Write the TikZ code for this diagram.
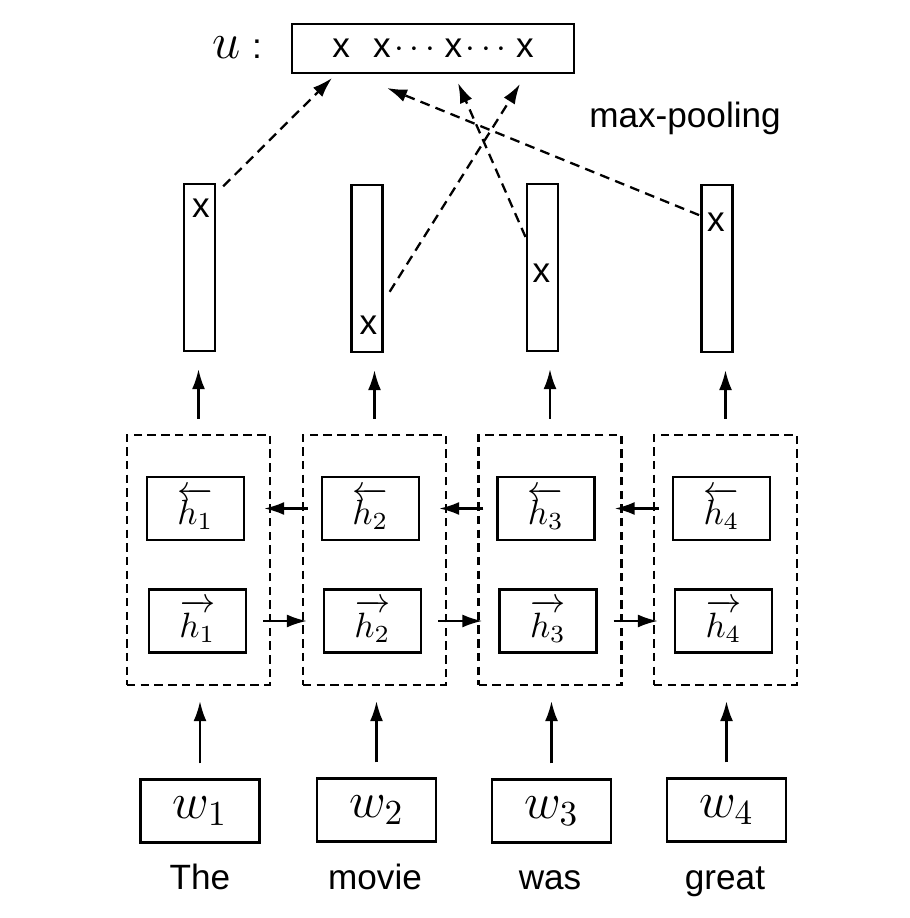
\documentclass[tikz,border=0pt]{standalone}
\usepackage{amsmath}
\usepackage{fontspec}
\setsansfont{Liberation Sans}
\usetikzlibrary{arrows.meta,positioning,calc}

\begin{document}
\begin{tikzpicture}[every node/.style={font=\sffamily},
    wbox/.style={draw, line width=0.65pt, minimum width=1.19cm, minimum height=0.63cm, inner sep=0pt, font=\Large},
    hbox/.style={draw, line width=0.65pt, minimum width=0.97cm, minimum height=0.63cm, inner sep=0pt, font=\normalsize},
    group/.style={draw, line width=0.65pt, dash pattern=on 2.4pt off 1.5pt, minimum width=1.43cm, minimum height=2.50cm},
    vec/.style={draw, line width=0.65pt, minimum width=0.31cm, minimum height=1.67cm, inner sep=0pt},
    maxel/.style={inner sep=0pt},
    tok/.style={inner sep=0pt, anchor=base},
    link/.style={line width=0.65pt, -{Latex[length=2mm, width=1.3mm]}},
    pool/.style={link, dash pattern=on 2.8pt off 1.8pt}]
    \useasboundingbox (0,0) rectangle (9.10,9.18);

    % input words
    \node[wbox] (w1) at (2.00,1.07) {$w_1$};
    \node[wbox] (w2) at (3.765,1.08) {$w_2$};
    \node[wbox] (w3) at (5.515,1.07) {$w_3$};
    \node[wbox] (w4) at (7.265,1.08) {$w_4$};
    \node[tok] (s1) at (2.00,0.29) {The};
    \node[tok] (s2) at (3.75,0.29) {movie};
    \node[tok] (s3) at (5.50,0.29) {was};
    \node[tok] (s4) at (7.25,0.29) {great};

    % BiLSTM steps
    \node[group] (d1) at (1.985,3.58) {};
    \node[group] (d2) at (3.745,3.58) {};
    \node[group] (d3) at (5.50,3.58) {};
    \node[group] (d4) at (7.255,3.58) {};
    \node[hbox] (b1) at (1.955,4.095) {$\overleftarrow{h_1}$};
    \node[hbox] (b2) at (3.705,4.095) {$\overleftarrow{h_2}$};
    \node[hbox] (b3) at (5.46,4.095) {$\overleftarrow{h_3}$};
    \node[hbox] (b4) at (7.215,4.095) {$\overleftarrow{h_4}$};
    \node[hbox] (f1) at (1.975,2.97) {$\overrightarrow{h_1}$};
    \node[hbox] (f2) at (3.725,2.97) {$\overrightarrow{h_2}$};
    \node[hbox] (f3) at (5.48,2.97) {$\overrightarrow{h_3}$};
    \node[hbox] (f4) at (7.235,2.97) {$\overrightarrow{h_4}$};

    % hidden vectors
    \node[vec] (v1) at (1.995,6.505) {};
    \node[vec] (v2) at (3.67,6.495) {};
    \node[vec] (v3) at (5.425,6.505) {};
    \node[vec] (v4) at (7.17,6.495) {};
    \node[maxel] (x1) at (2.01,7.095) {x};
    \node[maxel] (x2) at (3.685,5.925) {x};
    \node[maxel] (x3) at (5.415,6.445) {x};
    \node[maxel] (x4) at (7.16,6.96) {x};

    % pooled vector
    \node (ulab) at (2.37,8.70) {{\Large$u$}\,\,:};
    \node[draw, line width=0.65pt, minimum width=2.82cm, minimum height=0.49cm] (u) at (4.33,8.695) {x\hspace{6.6pt}x\hspace{1pt}$\cdots$\hspace{1pt}x\hspace{1pt}$\cdots$\hspace{1pt}x\hspace{1.5pt}};
    \node (mp) at (6.85,8.00) {max-pooling};
    \coordinate (p1) at (3.32,8.40);
    \coordinate (p2) at (5.20,8.34);
    \coordinate (p3) at (4.58,8.35);
    \coordinate (p4) at (3.87,8.30);

    \draw[link, shorten <=0.15cm, shorten >=0.15cm] (w1.north) -- (w1.north |- d1.south);
    \draw[link, shorten <=0.15cm, shorten >=0.15cm] (w2.north) -- (w2.north |- d2.south);
    \draw[link, shorten <=0.15cm, shorten >=0.15cm] (w3.north) -- (w3.north |- d3.south);
    \draw[link, shorten <=0.15cm, shorten >=0.15cm] (w4.north) -- (w4.north |- d4.south);

    \draw[link, shorten <=0.16cm, shorten >=0.16cm] (f1.east) -- (f2.west);
    \draw[link, shorten <=0.16cm, shorten >=0.16cm] (f2.east) -- (f3.west);
    \draw[link, shorten <=0.16cm, shorten >=0.16cm] (f3.east) -- (f4.west);
    \draw[link, shorten <=0.13cm, shorten >=0.19cm] (b2.west) -- (b1.east);
    \draw[link, shorten <=0.13cm, shorten >=0.19cm] (b3.west) -- (b2.east);
    \draw[link, shorten <=0.13cm, shorten >=0.19cm] (b4.west) -- (b3.east);

    \draw[link, shorten <=0.15cm, shorten >=0.17cm] (d1.north) -- (d1.north |- v1.south);
    \draw[link, shorten <=0.15cm, shorten >=0.17cm] (d2.north) -- (d2.north |- v2.south);
    \draw[link, shorten <=0.15cm, shorten >=0.17cm] (d3.north) -- (d3.north |- v3.south);
    \draw[link, shorten <=0.15cm, shorten >=0.17cm] (d4.north) -- (d4.north |- v4.south);

    \draw[pool, shorten <=0.18cm] (x1) -- (p1);
    \draw[pool, shorten <=0.28cm] (x2) -- (p2);
    \draw[pool, shorten <=0.29cm] (x3) -- (p3);
    \draw[pool, shorten <=0.08cm] (x4) -- (p4);
\end{tikzpicture}
\end{document}
